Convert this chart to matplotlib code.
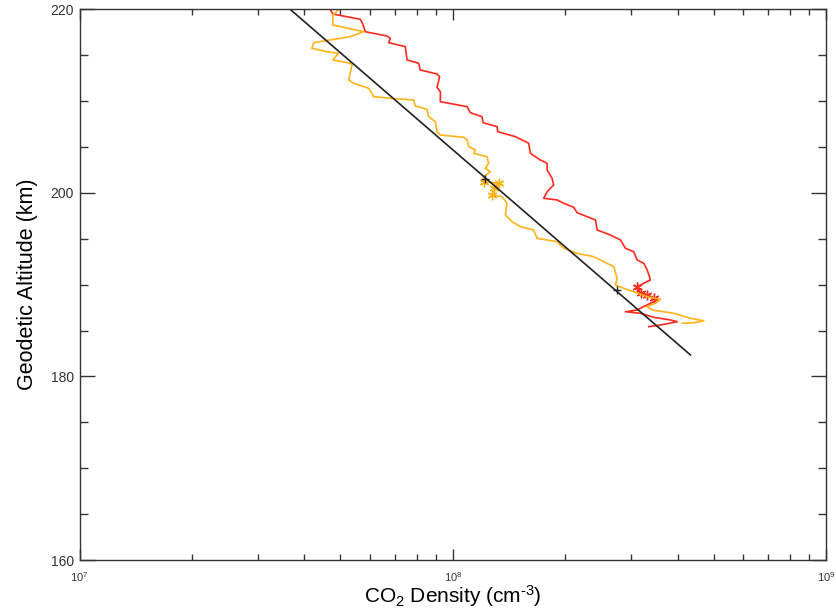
import matplotlib
matplotlib.use("Agg")
import matplotlib.pyplot as plt
from matplotlib.ticker import LogLocator, MultipleLocator, LogFormatterSciNotation

plt.rcParams["font.family"] = ["Liberation Sans", "DejaVu Sans"]
plt.rcParams["mathtext.fontset"] = "custom"
plt.rcParams["mathtext.rm"] = "Liberation Sans"
plt.rcParams["mathtext.it"] = "Liberation Sans:italic"

# red profile (density cm^-3, altitude km)
red_density = [4.70e7, 4.77e7, 5.65e7, 5.74e7, 5.83e7, 6.66e7, 6.80e7, 6.73e7,
               7.46e7, 7.54e7, 8.10e7, 8.18e7, 9.07e7, 9.22e7, 9.07e7, 9.26e7,
               9.26e7, 1.092e8, 1.114e8, 1.197e8, 1.205e8, 1.314e8, 1.319e8,
               1.471e8, 1.597e8, 1.614e8, 1.664e8, 1.716e8, 1.789e8, 1.789e8,
               1.845e8, 1.863e8, 1.789e8, 1.751e8, 1.903e8, 1.982e8, 2.108e8,
               2.153e8, 2.290e8, 2.410e8, 2.436e8, 2.644e8, 2.812e8, 2.900e8,
               3.053e8, 3.118e8, 3.248e8, 3.317e8, 3.385e8, 3.248e8, 3.118e8,
               3.183e8, 3.317e8, 3.454e8, 3.528e8, 3.385e8, 3.242e8, 3.118e8,
               2.900e8, 3.183e8, 3.454e8, 3.830e8, 3.992e8, 3.600e8, 3.349e8]
red_alt = [220.0, 219.51, 218.93, 218.42, 217.58, 217.11, 216.86, 216.38,
           215.95, 214.50, 214.14, 213.41, 212.97, 212.68, 211.52, 211.04,
           209.95, 209.41, 208.75, 208.32, 207.66, 207.23, 206.68,
           206.14, 205.42, 204.33, 203.96, 203.60, 203.24, 202.51,
           201.60, 200.87, 200.14, 199.42, 199.24, 198.88, 198.44,
           197.85, 197.42, 197.06, 195.97, 195.42, 194.88, 193.97,
           193.60, 192.70, 192.34, 191.61, 190.52, 190.16, 189.79,
           189.07, 188.88, 188.52, 188.34, 187.98, 187.61, 187.25,
           187.06, 186.89, 186.45, 186.16, 185.97, 185.61, 185.43]
red_star_density = [3.118e8, 3.183e8, 3.317e8, 3.454e8]
red_star_alt = [189.79, 189.07, 188.88, 188.52]

# orange profile
orange_density = [4.93e7, 4.84e7, 4.77e7, 4.77e7, 5.77e7, 5.31e7, 4.70e7, 4.24e7,
                  4.19e7, 4.60e7, 4.94e7, 4.77e7, 5.31e7, 5.37e7, 5.26e7, 5.42e7,
                  5.95e7, 6.07e7, 6.13e7, 6.80e7, 7.85e7, 7.93e7, 8.53e7, 8.61e7,
                  8.98e7, 9.07e7, 9.26e7, 1.069e8, 1.092e8, 1.103e8, 1.149e8,
                  1.137e8, 1.235e8, 1.247e8, 1.222e8, 1.260e8, 1.209e8, 1.209e8,
                  1.327e8, 1.287e8, 1.274e8, 1.355e8, 1.397e8, 1.383e8, 1.441e8,
                  1.517e8, 1.647e8, 1.682e8, 1.903e8, 1.982e8, 2.153e8, 2.385e8,
                  2.537e8, 2.698e8, 2.755e8, 2.727e8, 2.870e8, 3.053e8, 3.317e8,
                  3.600e8, 3.491e8, 3.317e8, 3.420e8, 3.908e8, 4.332e8, 4.703e8,
                  4.421e8, 4.117e8]
orange_alt = [220.0, 219.59, 219.40, 218.31, 217.58, 217.04, 216.68, 216.38,
              215.77, 215.40, 215.23, 214.50, 214.14, 213.95, 212.32, 211.96,
              211.41, 210.87, 210.50, 210.32, 210.14, 209.48, 209.12, 208.32,
              207.77, 206.68, 206.32, 206.07, 205.78, 205.05, 204.69,
              204.33, 203.96, 203.24, 202.69, 202.32, 201.78, 201.23,
              201.06, 200.51, 199.78, 199.60, 198.88, 197.61, 196.88,
              196.33, 195.97, 195.06, 194.69, 193.97, 193.42, 193.06,
              192.51, 191.97, 190.70, 189.97, 189.61, 189.24, 188.70,
              188.41, 187.98, 187.61, 187.25, 186.89, 186.34, 186.08,
              185.86, 185.80]
orange_star_density = [1.209e8, 1.327e8, 1.287e8, 1.274e8]
orange_star_alt = [201.23, 201.06, 200.51, 199.78]

# exponential fit line and its two anchor points
fit_density = [3.67e7, 4.33e8]
fit_alt = [220.0, 182.35]
fit_mark_density = [1.22e8, 2.75e8]
fit_mark_alt = [201.5, 189.4]

fig = plt.figure(figsize=(8.37, 6.16), dpi=100)
ax = fig.add_axes([0.095, 0.0909, 0.892, 0.8937])

ax.plot(red_density, red_alt, color="#ff2a1f", lw=1.2)
ax.plot(red_star_density, red_star_alt, ls="none", marker=(6, 2, 0),
        ms=7, mew=1.0, color="#ff2a1f")
ax.plot(orange_density, orange_alt, color="#ffb21a", lw=1.2)
ax.plot(orange_star_density, orange_star_alt, ls="none", marker=(6, 2, 0),
        ms=7, mew=1.0, color="#ffb21a")
ax.plot(fit_density, fit_alt, color="#222222", lw=1.2)
ax.plot(fit_mark_density, fit_mark_alt, ls="none", marker="+", ms=6,
        mew=1.0, color="#222222")

ax.set_xscale("log")
ax.set_xlim(1e7, 1e9)
ax.set_ylim(160, 220)
ax.yaxis.set_major_locator(MultipleLocator(20))
ax.yaxis.set_minor_locator(MultipleLocator(5))
ax.xaxis.set_major_locator(LogLocator(base=10, numticks=5))
ax.xaxis.set_minor_locator(LogLocator(base=10, subs=range(2, 10), numticks=20))
ax.xaxis.set_major_formatter(LogFormatterSciNotation())

ax.tick_params(which="both", direction="in", top=True, right=True,
               color="#333333", labelcolor="#333333", width=1.0)
ax.tick_params(axis="x", which="major", length=8, labelsize=8, pad=7)
ax.tick_params(axis="x", which="minor", length=4)
ax.tick_params(axis="y", which="major", length=11, labelsize=10, pad=4)
ax.tick_params(axis="y", which="minor", length=6)
for s in ax.spines.values():
    s.set_color("#333333")
    s.set_linewidth(1.0)

ax.set_xlabel(r"CO$_2$ Density (cm$^{\text{-3}}$)", fontsize=15, labelpad=0)
ax.set_ylabel("Geodetic Altitude (km)", fontsize=15.5, labelpad=9)

fig.savefig("out.png", dpi=100)
